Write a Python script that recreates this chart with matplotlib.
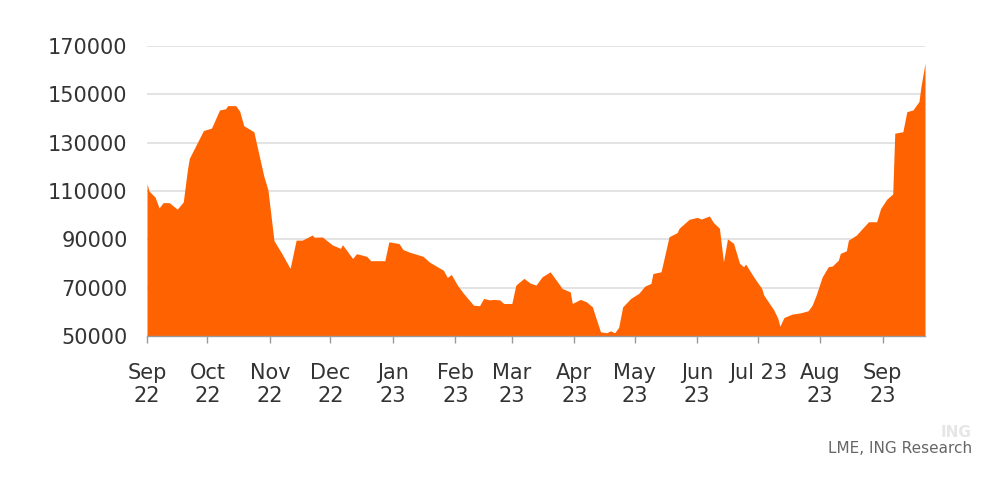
import matplotlib.pyplot as plt
import matplotlib.dates as mdates
import pandas as pd

# LME stocks (date, tonnes)
dates = [
    "2022-09-01", "2022-09-02", "2022-09-05", "2022-09-07", "2022-09-09", "2022-09-12",
    "2022-09-16", "2022-09-19", "2022-09-21", "2022-09-22", "2022-09-29", "2022-10-03",
    "2022-10-07", "2022-10-10", "2022-10-11", "2022-10-15", "2022-10-17", "2022-10-19",
    "2022-10-21", "2022-10-24", "2022-10-29", "2022-10-31", "2022-11-03", "2022-11-07",
    "2022-11-11", "2022-11-14", "2022-11-17", "2022-11-22", "2022-11-23", "2022-11-27",
    "2022-12-02", "2022-12-06", "2022-12-07", "2022-12-12", "2022-12-14", "2022-12-19",
    "2022-12-21", "2022-12-28", "2022-12-30", "2023-01-04", "2023-01-06", "2023-01-09",
    "2023-01-16", "2023-01-19", "2023-01-23", "2023-01-26", "2023-01-28", "2023-01-30",
    "2023-02-02", "2023-02-05", "2023-02-10", "2023-02-13", "2023-02-15", "2023-02-18",
    "2023-02-20", "2023-02-23", "2023-02-25", "2023-03-01", "2023-03-03", "2023-03-07",
    "2023-03-10", "2023-03-13", "2023-03-16", "2023-03-20", "2023-03-23", "2023-03-26",
    "2023-03-30", "2023-03-31", "2023-04-04", "2023-04-07", "2023-04-10", "2023-04-11",
    "2023-04-14", "2023-04-17", "2023-04-19", "2023-04-21", "2023-04-23", "2023-04-25",
    "2023-04-29", "2023-05-03", "2023-05-06", "2023-05-09", "2023-05-10", "2023-05-14",
    "2023-05-15", "2023-05-18", "2023-05-22", "2023-05-23", "2023-05-28", "2023-06-01",
    "2023-06-03", "2023-06-07", "2023-06-09", "2023-06-12", "2023-06-14", "2023-06-16",
    "2023-06-19", "2023-06-22", "2023-06-24", "2023-06-25", "2023-06-29", "2023-07-03",
    "2023-07-04", "2023-07-09", "2023-07-11", "2023-07-12", "2023-07-14", "2023-07-18",
    "2023-07-22", "2023-07-26", "2023-07-28", "2023-07-30", "2023-08-02", "2023-08-05",
    "2023-08-07", "2023-08-10", "2023-08-11", "2023-08-14", "2023-08-15", "2023-08-19",
    "2023-08-22", "2023-08-25", "2023-08-29", "2023-08-31", "2023-09-03", "2023-09-06",
    "2023-09-07", "2023-09-11", "2023-09-13", "2023-09-16", "2023-09-19", "2023-09-20",
    "2023-09-22",
]
stocks = [
    113000, 110000, 107500, 103000, 105200, 105200,
    102500, 105500, 118500, 123500, 135000, 136000,
    143500, 144000, 145300, 145300, 143000, 137000,
    136000, 134500, 116000, 110500, 89500, 84000,
    78000, 89700, 89700, 91800, 90900, 91000,
    87700, 86300, 87800, 82100, 84100, 83000,
    81200, 81200, 89000, 88300, 85800, 84800,
    83000, 80700, 78700, 77300, 74300, 75500,
    71100, 67700, 62800, 62600, 65600, 65000,
    65200, 65000, 63500, 63500, 71100, 73900,
    72000, 71100, 74500, 76600, 73200, 69700,
    68300, 63500, 65200, 64200, 62100, 59400,
    51800, 51400, 52200, 51400, 53600, 62100,
    65600, 67700, 70700, 71800, 75900, 76600,
    80100, 91100, 92800, 94600, 98300, 99100,
    98400, 99700, 97000, 94600, 80700, 90200,
    88400, 80100, 78700, 79800, 74500, 69700,
    67000, 60800, 57300, 54100, 57700, 59100,
    59600, 60500, 62800, 67000, 74500, 78700,
    79000, 81400, 84200, 85300, 89700, 91800,
    94600, 97300, 97300, 102800, 106600, 108800,
    133900, 134500, 142800, 143500, 147000, 153200,
    162800,
]

tick_dates = pd.date_range("2022-09-01", "2023-09-01", freq="MS")
tick_labels = ["Sep\n22", "Oct\n22", "Nov\n22", "Dec\n22", "Jan\n23", "Feb\n23", "Mar\n23",
               "Apr\n23", "May\n23", "Jun\n23", "Jul 23", "Aug\n23", "Sep\n23"]
y_ticks = [50000, 70000, 90000, 110000, 130000, 150000, 170000]

x = pd.to_datetime(dates)

fig = plt.figure(figsize=(10, 5.04), dpi=100)
ax = fig.add_axes([0.147, 0.333, 0.778, 0.576])

ax.fill_between(x, stocks, y_ticks[0], color="#FF6200", linewidth=0, zorder=2)

ax.set_ylim(y_ticks[0], y_ticks[-1])
ax.set_xlim(x[0], x[-1])
ax.set_yticks(y_ticks)
ax.set_yticklabels([str(v) for v in y_ticks])
ax.set_xticks(tick_dates)
ax.set_xticklabels(tick_labels)

ax.grid(axis="y", color="#dedede", linewidth=1.2, zorder=0)
for s in ["top", "right", "left"]:
    ax.spines[s].set_visible(False)
ax.spines["bottom"].set_color("#9a9a9a")
ax.spines["bottom"].set_linewidth(1.0)
ax.spines["bottom"].set_zorder(3)

ax.tick_params(axis="y", length=0, pad=14, labelsize=15, labelcolor="#333333")
ax.tick_params(axis="x", length=5, width=1, color="#9a9a9a", pad=14,
               labelsize=15, labelcolor="#333333")

# faint ING watermark above the source line
fig.text(0.972, 0.126, "ING", fontsize=11, fontweight="bold", color="#e6e6e6",
         ha="right", va="bottom")
fig.text(0.972, 0.110, "LME, ING Research", fontsize=11, color="#666666", ha="right",
         va="center")

fig.savefig("out.png", dpi=100)
